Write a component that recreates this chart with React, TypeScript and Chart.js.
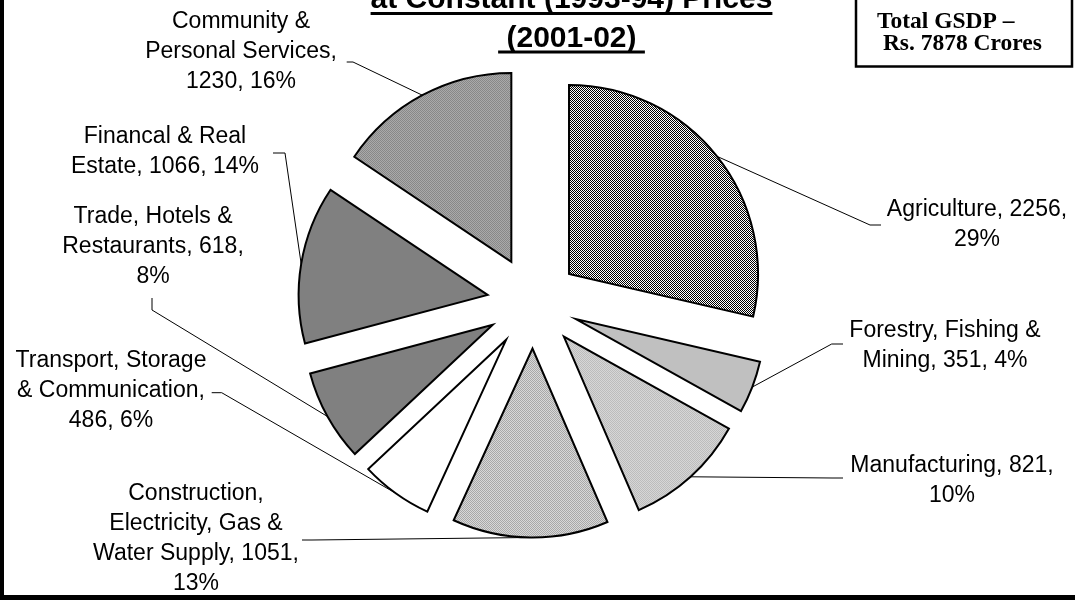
import React, { useEffect, useRef } from 'react';
import { Chart, registerables } from 'chart.js';

Chart.register(...registerables);

// ---------- data ----------
const categories = [
  'Agriculture',
  'Forestry, Fishing & Mining',
  'Manufacturing',
  'Construction, Electricity, Gas & Water Supply',
  'Transport, Storage & Communication',
  'Trade, Hotels & Restaurants',
  'Financal & Real Estate',
  'Community & Personal Services',
];
const values = [2256, 351, 821, 1051, 486, 618, 1066, 1230];
const titleLines = ['at Constant (1993-94) Prices', ' (2001-02) '];
const noteLines = ['Total GSDP \u2013', ' Rs. 7878 Crores'];

// ---------- styles / layout ----------
const EXPLODE = 46;
const RADIUS = 189;
// fill: solid colour or [colorA, colorB] 1px checker pattern
const fills: (string | [string, string])[] = [
  ['#000000', '#ffffff'],
  '#c0c0c0',
  ['#bcbcbc', '#d6d6d6'],
  ['#a8a8a8', '#d8d8d8'],
  '#ffffff',
  '#808080',
  '#808080',
  ['#888888', '#aaaaaa'],
];
// label layout relative to pie centre: text centre / first baseline, elbow, end of leader
const labelLayout = [
  { tx: 444, ty: -86.5, kx: 337, ky: -77.5, ex: 348, ey: -77.5 },
  { tx: 412, ty: 34.2, kx: 298.7, ky: 41.5, ex: 310, ey: 41.5 },
  { tx: 419, ty: 169.2, kx: 299, ky: 175.5, ex: 310, ey: 175.5 },
  { tx: -337, ty: 197.5, kx: -221, ky: 237.5, ex: -231, ey: 237.5 },
  { tx: -422, ty: 64.5, kx: -311.3, ky: 90.2, ex: -321.3, ey: 90.2 },
  { tx: -380, ty: -79.5, kx: -381, ky: 7.5, ex: -381, ey: -4.5 },
  { tx: -368, ty: -159.5, kx: -248, ky: -149.5, ex: -260, ey: -149.5 },
  { tx: -292, ty: -274.5, kx: -180, ky: -240.5, ex: -186.3, ey: -240.5 },
];
const LABEL_FONT = '23px "Liberation Sans", Arial, sans-serif';
const LABEL_LINE = 30;
const WRAP = 210;

function makeFill(f: string | [string, string]): string | CanvasPattern {
  if (typeof f === 'string') return f;
  const c = document.createElement('canvas');
  c.width = 2;
  c.height = 2;
  const g = c.getContext('2d')!;
  g.fillStyle = f[1];
  g.fillRect(0, 0, 2, 2);
  g.fillStyle = f[0];
  g.fillRect(0, 0, 1, 1);
  g.fillRect(1, 1, 1, 1);
  const p = g.createPattern(c, 'repeat');
  return p || f[0];
}

function wrapText(ctx: CanvasRenderingContext2D, text: string, max: number): string[] {
  const words = text.split(' ');
  const lines: string[] = [];
  let cur = '';
  for (const w of words) {
    const test = cur ? cur + ' ' + w : w;
    if (cur && ctx.measureText(test).width > max) {
      lines.push(cur);
      cur = w;
    } else {
      cur = test;
    }
  }
  if (cur) lines.push(cur);
  return lines;
}

const total = values.reduce((a, b) => a + b, 0);

const piePlugin = {
  id: 'explodedPie',
  beforeDatasetsDraw(chart: any) {
    const { ctx, chartArea } = chart;
    const cx = (chartArea.left + chartArea.right) / 2;
    const cy = (chartArea.top + chartArea.bottom) / 2;
    const meta = chart.getDatasetMeta(0);
    meta.data.forEach((arc: any) => {
      const mid = (arc.startAngle + arc.endAngle) / 2;
      arc.x = cx + Math.cos(mid) * EXPLODE;
      arc.y = cy + Math.sin(mid) * EXPLODE;
    });
    // leader lines (under the slices)
    ctx.save();
    ctx.strokeStyle = '#000';
    ctx.lineWidth = 1;
    meta.data.forEach((arc: any, i: number) => {
      const L = labelLayout[i];
      const mid = (arc.startAngle + arc.endAngle) / 2;
      const px = arc.x + Math.cos(mid) * arc.outerRadius;
      const py = arc.y + Math.sin(mid) * arc.outerRadius;
      ctx.beginPath();
      ctx.moveTo(px, py);
      ctx.lineTo(cx + L.kx, cy + L.ky);
      ctx.lineTo(cx + L.ex, cy + L.ey);
      ctx.stroke();
    });
    ctx.restore();
  },
  afterDraw(chart: any) {
    const { ctx, chartArea, canvas } = chart;
    const cx = (chartArea.left + chartArea.right) / 2;
    const cy = (chartArea.top + chartArea.bottom) / 2;
    const W = canvas.width / (chart.currentDevicePixelRatio || 1);
    const H = canvas.height / (chart.currentDevicePixelRatio || 1);
    ctx.save();
    // data labels
    ctx.font = LABEL_FONT;
    ctx.fillStyle = '#000';
    ctx.textAlign = 'center';
    ctx.textBaseline = 'alphabetic';
    values.forEach((v, i) => {
      const pct = Math.round((v / total) * 100);
      const text = `${categories[i]}, ${v}, ${pct}%`;
      const lines = wrapText(ctx, text, WRAP);
      const L = labelLayout[i];
      lines.forEach((ln, j) => {
        ctx.fillText(ln, cx + L.tx, cy + L.ty + j * LABEL_LINE);
      });
    });

    // title (upper part cut off by the canvas edge)
    ctx.font = 'bold 30px "Liberation Sans", Arial, sans-serif';
    const tX = 571.5;
    const tBase = [8, 46.5];
    titleLines.forEach((t, j) => {
      ctx.fillText(t, tX, tBase[j]);
      const w = ctx.measureText(t).width;
      ctx.fillRect(tX - w / 2, tBase[j] + 4, w, 3);
    });

    // note box
    ctx.strokeStyle = '#000';
    ctx.lineWidth = 2.5;
    ctx.beginPath();
    ctx.moveTo(856, -2);
    ctx.lineTo(856, 66.5);
    ctx.lineTo(1072, 66.5);
    ctx.lineTo(1072, -2);
    ctx.stroke();
    ctx.font = 'bold 23.5px "Liberation Serif", "Times New Roman", serif';
    ctx.textAlign = 'left';
    ctx.fillText(noteLines[0], 877, 27.5);
    ctx.fillText(noteLines[1], 877, 50);

    // frame
    ctx.fillStyle = '#000';
    ctx.fillRect(0, 0, 4, H);
    ctx.fillRect(0, H - 5, W, 5);
    ctx.restore();
  },
};

export default function App() {
  const ref = useRef<HTMLCanvasElement | null>(null);
  useEffect(() => {
    if (!ref.current) return;
    const chart = new Chart(ref.current, {
      type: 'pie',
      data: {
        labels: categories,
        datasets: [
          {
            data: values,
            backgroundColor: fills.map(makeFill) as any,
            borderColor: '#000',
            borderWidth: 2,
            borderJoinStyle: 'miter',
            offset: 0,
          } as any,
        ],
      },
      options: {
        responsive: false,
        animation: false,
        events: [],
        radius: RADIUS,
        layout: { padding: { left: 0, right: 9, top: 5, bottom: 0 } },
        plugins: {
          legend: { display: false },
          tooltip: { enabled: false },
          title: { display: false },
        },
      } as any,
      plugins: [piePlugin],
    });
    return () => chart.destroy();
  }, []);
  return (
    <div style={{ position: 'absolute', left: 0, top: 0, width: 1075, height: 600, background: '#fff' }}>
      <canvas ref={ref} width={1075} height={600} style={{ display: 'block' }} />
    </div>
  );
}
